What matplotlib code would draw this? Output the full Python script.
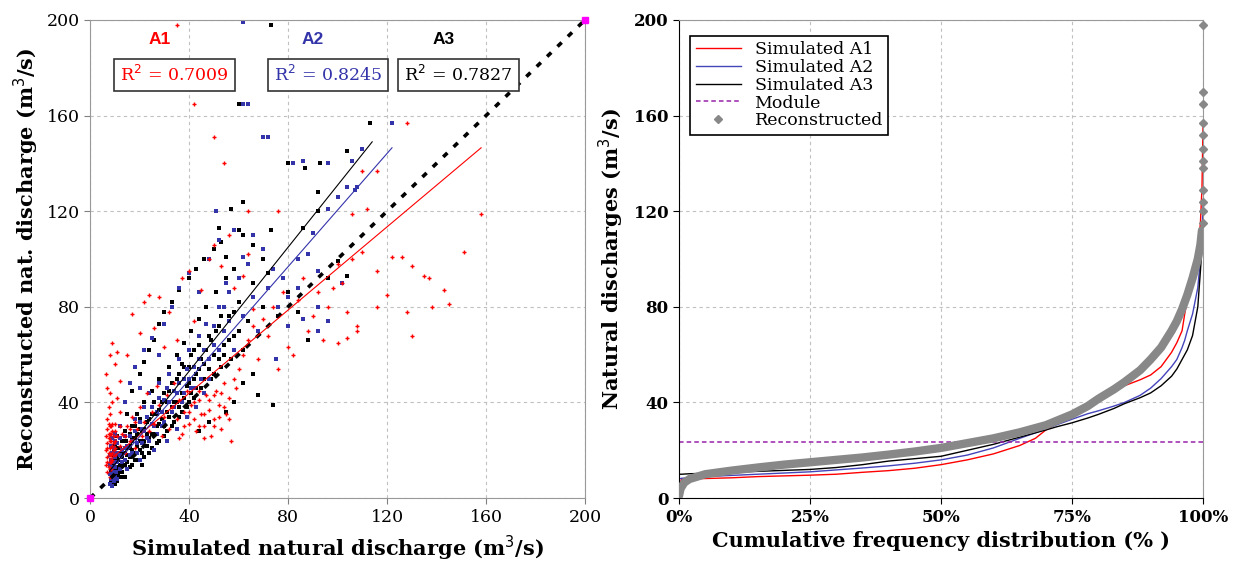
import numpy as np
import matplotlib
matplotlib.use("Agg")
import matplotlib.pyplot as plt
from matplotlib.ticker import FixedLocator

plt.rcParams['font.family'] = ['DejaVu Serif']

# ---- left panel: simulated vs reconstructed discharge (m3/s) ----
a1_x = [6.5, 6.5, 6.5, 7, 7, 7, 7, 7, 7.5, 7.5, 7.5, 7.5, 7.5, 8, 8, 8, 8, 8, 8, 8.5, 8.5, 8.5, 8.5,
        9, 9, 9, 9, 9.5, 9.5, 10, 10, 10, 6.5, 7, 8, 9, 11, 10, 12, 11, 12,
        12, 13, 14, 15, 16, 17, 18, 19, 20, 21, 22, 23, 24, 25, 26, 27, 28, 29, 30, 31, 32, 33, 34, 35,
        36, 37, 38, 39, 40, 41, 42, 43, 44, 45, 46, 47, 48, 49, 50, 51, 52, 53, 54, 55, 56, 57, 58, 59, 60,
        15, 17, 20, 22, 24, 26, 28, 30, 32, 35, 37, 40, 42, 45, 48, 50, 53, 56, 58, 62, 64, 66,
        62, 64, 66, 68, 70, 72, 74, 76, 78, 80, 82, 84, 86, 88, 90, 92, 94, 96, 98, 100, 102, 104, 106, 108, 110,
        42, 50, 54, 64, 76, 106, 110, 116, 128, 112, 116, 122, 126, 130, 135, 137, 143, 145, 151, 158,
        130, 128, 116, 120, 138, 104, 108, 100, 35,
        7, 7, 7.5, 8, 8, 8, 8, 8.5, 8.5, 9, 9, 9.5, 10, 10, 11, 12, 14, 16, 18,
        40, 42, 44, 46, 48, 50, 52, 54, 56, 44, 46, 38, 36, 50, 53]
a1_y = [14, 20, 26, 11, 17, 23, 29, 33, 13, 19, 25, 31, 38, 9, 15, 21, 27, 35, 44, 12, 18, 24, 30,
        16, 22, 28, 40, 20, 26, 18, 24, 31, 52, 46, 60, 65, 61, 56, 49, 42, 36,
        22, 27, 19, 30, 24, 34, 21, 29, 38, 26, 32, 44, 28, 36, 31, 47, 39, 26, 34, 43, 29, 38, 48, 33,
        41, 27, 36, 45, 31, 39, 33, 28, 41, 35, 30, 43, 37, 26, 33, 45, 39, 29, 48, 35, 42, 24, 50, 46, 54,
        60, 77, 69, 82, 85, 71, 84, 63, 78, 66, 92, 95, 74, 87, 100, 106, 97, 110, 88, 93, 102, 79,
        60, 66, 72, 58, 75, 68, 80, 54, 86, 63, 60, 83, 92, 70, 76, 86, 66, 80, 88, 98, 90, 78, 100, 72, 103,
        165, 151, 140, 120, 120, 119, 137, 137, 157, 121, 95, 101, 101, 97, 93, 92, 87, 81, 103, 119,
        68, 78, 80, 85, 80, 67, 70, 65, 198,
        15, 21, 27, 12, 18, 24, 30, 15, 27, 19, 31, 23, 21, 28, 26, 30, 26, 29, 32,
        36, 40, 30, 35, 41, 30, 34, 38, 33, 45, 25, 30, 25, 43, 44]

a2_x = [8, 8, 8, 8, 8.5, 8.5, 8.5, 8.5, 9, 9, 9, 9, 9, 9.5, 9.5, 9.5, 9.5, 10, 10, 10, 10, 10.5, 10.5,
        11, 11, 11, 12, 12, 12,
        13, 14, 15, 16, 17, 18, 19, 20, 21, 22, 23, 24, 25, 26, 27, 28, 29, 30, 31, 32, 33, 34, 35, 36,
        37, 38, 39, 40, 41, 42, 43, 44, 45, 46, 47, 48, 50, 52, 54, 56, 58, 60, 62, 64, 66, 68, 70, 72,
        74, 76, 78, 80, 84, 88, 90, 92, 96, 100, 104, 107,
        14, 16, 18, 20, 22, 25, 28, 30, 33, 36, 40, 44, 48, 52, 55, 58, 62, 66,
        51, 62, 64, 70, 72, 82, 86, 96, 106, 108, 110, 122, 62, 92, 96, 102, 84, 80, 75, 86, 92,
        10, 11, 12, 13, 14, 14, 15, 16, 17, 18, 19, 20, 21, 22, 23, 24, 25, 26, 27, 28, 29, 30, 31, 32,
        34, 35, 36, 38, 39, 40, 42, 44, 46, 48, 50, 52, 54, 56]
a2_y = [6, 10, 14, 18, 8, 12, 16, 22, 5, 9, 13, 19, 25, 7, 11, 15, 21, 9, 13, 17, 27, 11, 19,
        8, 15, 23, 12, 18, 30,
        15, 21, 12, 26, 19, 33, 23, 16, 29, 38, 25, 44, 31, 20, 36, 48, 30, 41, 24, 52, 36, 45, 29, 58,
        40, 50, 34, 62, 46, 55, 38, 68, 50, 44, 73, 58, 64, 80, 70, 86, 62, 92, 76, 98, 84, 70, 104, 88,
        96, 80, 92, 84, 100, 102, 111, 95, 121, 126, 130, 129,
        40, 48, 55, 46, 62, 67, 60, 73, 80, 88, 94, 86, 100, 108, 90, 112, 101, 110,
        120, 165, 165, 151, 151, 140, 141, 140, 141, 130, 146, 157, 199, 70, 74, 90, 88, 72, 58, 75, 80,
        24, 19, 25, 20, 16, 26, 22, 18, 24, 28, 19, 32, 23, 28, 34, 24, 38, 30, 27, 42, 36, 32, 46, 40,
        38, 44, 48, 44, 54, 50, 46, 58, 62, 50, 72, 62, 80, 74]

a3_x = [8.5, 8.5, 8.5, 9, 9, 9, 9, 9.5, 9.5, 9.5, 10, 10, 10, 10, 10.5, 10.5, 10.5, 11, 11, 11,
        11.5, 11.5, 12, 12, 12, 13, 13, 13, 14, 14, 14,
        15, 16, 16, 17, 18, 18, 19, 20, 20, 21, 22, 22, 23, 24, 25, 25, 26, 27, 28, 28, 29, 30, 31, 32,
        32, 33, 34, 35, 35, 36, 37, 38, 38, 39, 40, 41, 41, 42, 43, 44, 44, 45, 46, 47, 48, 49, 50, 51,
        52, 53, 54, 55, 56, 57, 58, 60, 62, 64, 66, 68, 70, 72, 76, 80, 58, 62, 66, 55, 48, 44,
        15, 17, 20, 22, 24, 26, 28, 30, 33, 36, 40, 43, 46, 50, 53, 55, 58, 62, 66, 70, 73,
        73, 60, 70, 80, 87, 93, 104, 113, 92, 92, 86, 62, 57, 52, 60, 74, 68, 88, 84, 96, 100, 104,
        9, 9.5, 10, 10.5, 11, 11.5, 12, 12.5, 13, 13, 13.5, 14, 14.5, 15, 15, 15.5, 16, 16, 17, 17, 17,
        18, 18, 19, 19, 19, 20, 20, 21, 21, 22, 22, 23, 23, 24, 24, 25, 25, 26, 26, 27, 27, 28, 28, 29,
        30, 30, 31, 31, 32, 33, 33, 34, 34, 35, 36, 36, 37, 37, 38, 39, 40, 40, 41, 42, 42, 43, 44, 45,
        46, 47, 48, 49, 50, 51, 52, 53, 54, 56, 58, 60]
a3_y = [7, 11, 15, 6, 10, 14, 18, 8, 12, 20, 6, 10, 15, 22, 9, 13, 18, 7, 12, 26,
        10, 16, 9, 14, 21, 11, 17, 24, 9, 14, 28,
        18, 13, 22, 30, 16, 25, 35, 20, 29, 14, 24, 40, 32, 19, 27, 45, 35, 23, 31, 50, 40, 26, 36, 55,
        45, 30, 40, 60, 50, 34, 44, 65, 55, 38, 48, 70, 60, 42, 52, 75, 64, 46, 56, 80, 68, 50, 60, 86,
        72, 55, 64, 92, 76, 58, 68, 82, 62, 74, 90, 70, 80, 94, 76, 86, 40, 48, 52, 36, 32, 28,
        35, 45, 52, 57, 62, 66, 73, 78, 82, 87, 92, 96, 100, 104, 107, 101, 96, 110, 106, 100, 112,
        198, 165, 151, 140, 138, 140, 145, 157, 128, 120, 113, 124, 121, 113, 112, 39, 43, 66, 78, 92, 99, 93,
        9, 16, 19, 7, 17, 21, 11, 19, 14, 20, 9, 19, 24, 12, 15, 21, 17, 27, 14, 20, 25,
        19, 30, 16, 22, 27, 24, 33, 19, 28, 17, 29, 22, 27, 25, 33, 21, 35, 27, 40, 30, 35, 24, 37, 33,
        30, 44, 28, 40, 34, 38, 48, 32, 45, 40, 38, 52, 36, 56, 42, 47, 40, 55, 44, 50, 62, 46, 54, 58,
        50, 62, 54, 66, 52, 70, 58, 76, 60, 66, 78, 70]

# trend lines (end points) and R2 values
fit_x = {'A1': [8, 158], 'A2': [8, 122], 'A3': [8, 114]}
fit_y = {'A1': [16, 146.5], 'A2': [11.5, 146.5], 'A3': [11.5, 149]}
r2 = {'A1': 0.7009, 'A2': 0.8245, 'A3': 0.7827}

# ---- right panel: duration curves ----
pct = [0, 0.5, 2, 5, 10, 15, 20, 25, 30, 35, 40, 45, 50, 55, 60, 65, 68, 70, 72, 75, 78, 80, 83, 85,
       88, 90, 92, 94, 95, 96, 96.5, 97, 98, 99, 99.5, 99.8, 100]
sim_a1 = [5, 8, 8.1, 8.2, 8.5, 9, 9.3, 9.6, 10, 10.8, 11.5, 12.5, 14, 16, 18.5, 22, 25, 28.5, 31, 35,
          39, 42, 45, 47, 49.5, 51.5, 55, 61, 65, 70, 77, 83, 92, 103, 115, 130, 156]
sim_a2 = [8, 8.3, 8.6, 9, 9.5, 10, 10.5, 11, 11.8, 12.6, 13.5, 14.6, 16, 18, 21, 25, 27.3, 29, 30.6, 33,
          35.3, 36.5, 38.5, 40, 43, 46, 50, 55, 58, 63, 66, 70, 77, 88, 100, 110, 122]
sim_a3 = [10, 10, 10.2, 10.4, 10.8, 11.2, 11.6, 12, 12.8, 14, 15.5, 16.5, 17.5, 20, 22.5, 25.5, 27.3, 28.5,
          29.8, 31.5, 33.5, 35, 37.5, 39.5, 42, 44, 47, 51, 54, 58, 60, 62, 68, 80, 95, 105, 113]
rec_pct = [0, 0.3, 1, 2, 5, 10, 15, 20, 25, 30, 35, 40, 45, 50, 55, 60, 65, 70, 75, 78, 80, 83, 85, 88,
           90, 92, 94, 95, 96, 97, 98, 99, 99.5, 99.8]
rec = [1, 4, 6.5, 8, 10, 11.5, 12.8, 14, 15, 16, 17, 18.2, 19.5, 21, 23, 25, 27.5, 30.5, 35, 38.5, 41.5,
       45.5, 48.5, 53.5, 58, 63, 70, 74, 79, 85, 92, 100, 106, 112]
rec_tail = [115, 120, 124, 129, 138, 141, 146, 152, 157, 165, 170, 198]
module = 23.5

fig = plt.figure(figsize=(12.33, 5.68), dpi=100)
ax1 = fig.add_axes([0.073, 0.123, 0.4015, 0.842])
ax2 = fig.add_axes([0.5507, 0.123, 0.425, 0.842])

cols = {'A1': '#ff0000', 'A2': '#3333aa', 'A3': '#000000'}

# scatter
ax1.plot(a3_x, a3_y, ls='none', marker='s', ms=2.6, color=cols['A3'], mew=0)
ax1.plot(a2_x, a2_y, ls='none', marker='s', ms=2.6, color=cols['A2'], mew=0)
ax1.plot(a1_x, a1_y, ls='none', marker='+', ms=3.5, color=cols['A1'], mew=1.0)
ax1.plot([0, 200], [0, 200], color='black', lw=2.6, ls=(0, (1.6, 2.4)))
for k in ['A1', 'A2', 'A3']:
    ax1.plot(fit_x[k], fit_y[k], color=cols[k], lw=0.8)
ax1.plot([0, 200], [0, 200], ls='none', marker='s', ms=4, color='magenta', clip_on=False, zorder=5)

lab_x = {'A1': 28, 'A2': 90, 'A3': 143}
for k in ['A1', 'A2', 'A3']:
    ax1.text(lab_x[k], 192, k, color=cols[k], fontsize=12.5, fontweight='bold',
             family='Liberation Sans', ha='center', va='center')
    ax1.text(lab_x[k] + 6, 177, 'R$^2$ = %.4f' % r2[k], color=cols[k], fontsize=12.5,
             ha='center', va='center',
             bbox=dict(boxstyle='square,pad=0.35', fc='white', ec='#333333', lw=1.2))

ax1.set_xlim(0, 200)
ax1.set_ylim(0, 200)
ax1.xaxis.set_major_locator(FixedLocator(range(0, 201, 40)))
ax1.yaxis.set_major_locator(FixedLocator(range(0, 201, 40)))
ax1.grid(True, ls=(0, (3, 3)), color='#c0c0c0', lw=0.8)
ax1.set_axisbelow(True)
ax1.tick_params(labelsize=12.5, direction='out', length=4, color='#808080')
for s in ax1.spines.values():
    s.set_color('#999999')
ax1.set_xlabel('Simulated natural discharge (m$^3$/s)', fontsize=15, fontweight='bold', labelpad=6)
ax1.set_ylabel('Reconstructed nat. discharge (m$^3$/s)', fontsize=15, fontweight='bold', labelpad=4)

# duration curves
ax2.plot(pct, sim_a1, color='#ff0000', lw=1.0, label='Simulated A1')
ax2.plot(pct, sim_a2, color='#4444bb', lw=1.0, label='Simulated A2')
ax2.plot(pct, sim_a3, color='#000000', lw=1.0, label='Simulated A3')
ax2.axhline(module, color='#9922aa', lw=1.1, ls=(0, (3, 2)), label='Module')
ax2.plot(rec_pct, rec, color='#888888', lw=6, solid_capstyle='round', zorder=3)
ax2.plot([100] * len(rec_tail), rec_tail, ls='none', marker='D', ms=4, color='#888888',
         label='Reconstructed', clip_on=False, zorder=4)

ax2.set_xlim(0, 100)
ax2.set_ylim(0, 200)
ax2.xaxis.set_major_locator(FixedLocator([0, 25, 50, 75, 100]))
ax2.set_xticklabels(['0%', '25%', '50%', '75%', '100%'])
ax2.yaxis.set_major_locator(FixedLocator(range(0, 201, 40)))
ax2.grid(True, ls=(0, (3, 3)), color='#c0c0c0', lw=0.8)
ax2.set_axisbelow(True)
ax2.tick_params(labelsize=12, direction='out', length=4)
for lbl in ax2.get_xticklabels() + ax2.get_yticklabels():
    lbl.set_fontweight('bold')
ax2.spines['top'].set_color('#999999')
ax2.spines['right'].set_color('#999999')
ax2.set_xlabel('Cumulative frequency distribution (% )', fontsize=15, fontweight='bold', labelpad=4)
ax2.set_ylabel('Natural discharges (m$^3$/s)', fontsize=15, fontweight='bold', labelpad=6)
leg = ax2.legend(loc='upper left', fontsize=12.5, fancybox=False, framealpha=1, edgecolor='black',
                 handlelength=2.6, borderpad=0.3, labelspacing=0.05, bbox_to_anchor=(0.005, 0.985))
leg.get_frame().set_linewidth(1.2)

fig.savefig('out.png', dpi=100)
